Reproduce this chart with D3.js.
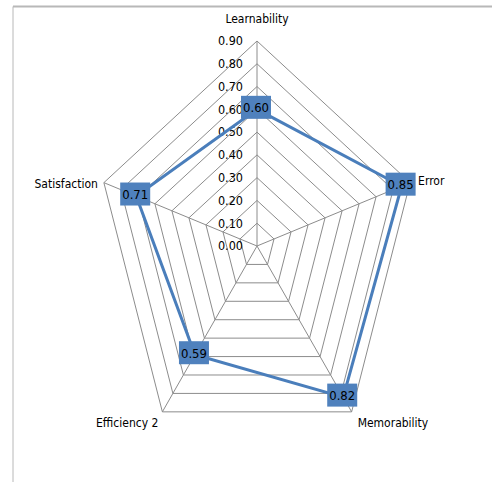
<!DOCTYPE html>
<html>
<head>
<meta charset="utf-8">
<script src="https://cdn.jsdelivr.net/npm/d3@7"></script>
<style>
  body { margin: 0; background: #fff; }
  svg text { font-family: "Liberation Sans Narrow", "DejaVu Sans Condensed", "Liberation Sans", sans-serif; font-size: 12px; fill: #000; }
</style>
</head>
<body>
<div id="chart"></div>
<script>
const categories = ["Learnability", "Error", "Memorability", "Efficiency 2", "Satisfaction"];
const values = [0.60, 0.85, 0.82, 0.59, 0.71];
const tickValues = [0, 0.1, 0.2, 0.3, 0.4, 0.5, 0.6, 0.7, 0.8, 0.9];

const width = 492, height = 482;
const cx = 257, cy = 246;

const svg = d3.select("#chart").append("svg")
  .attr("width", width)
  .attr("height", height);

// chart area border (only top and left are visible in the frame)
svg.append("line").attr("x1", 13).attr("y1", 6.5).attr("x2", width).attr("y2", 6.5)
  .attr("stroke", "#b8b8b8").attr("stroke-width", 2);
svg.append("line").attr("x1", 13).attr("y1", 6.5).attr("x2", 13).attr("y2", height)
  .attr("stroke", "#b8b8b8").attr("stroke-width", 1);

// plot is stretched: horizontal radius smaller than vertical
const rx = d3.scaleLinear().domain([0, 0.9]).range([0, 161]);
const ry = d3.scaleLinear().domain([0, 0.9]).range([0, 205]);
const angle = d3.scaleLinear().domain([0, categories.length]).range([-Math.PI / 2, 1.5 * Math.PI]);

const pt = (i, v) => [cx + rx(v) * Math.cos(angle(i)), cy + ry(v) * Math.sin(angle(i))];

const g = svg.append("g");

// rings
g.selectAll("polygon.ring")
  .data(tickValues.filter(t => t > 0))
  .join("polygon")
  .attr("class", "ring")
  .attr("points", t => categories.map((c, i) => pt(i, t).join(",")).join(" "))
  .attr("fill", "none")
  .attr("stroke", "#8c8c8c")
  .attr("stroke-width", 1);

// spokes
g.selectAll("line.spoke")
  .data(categories)
  .join("line")
  .attr("class", "spoke")
  .attr("x1", cx).attr("y1", cy)
  .attr("x2", (d, i) => pt(i, 0.9)[0])
  .attr("y2", (d, i) => pt(i, 0.9)[1])
  .attr("stroke", "#8c8c8c")
  .attr("stroke-width", 1);

// tick labels along top spoke
g.selectAll("text.tick")
  .data(tickValues)
  .join("text")
  .attr("class", "tick")
  .attr("x", 243)
  .attr("y", t => cy - ry(t))
  .attr("dy", "0.35em")
  .attr("text-anchor", "end")
  .style("font-size", "12.5px")
  .text(t => t.toFixed(2));

// category labels
const labelPos = [
  { dx: 0, dy: -22, anchor: "middle" },
  { dx: 8, dy: -2, anchor: "start" },
  { dx: 6, dy: 11, anchor: "start" },
  { dx: -4, dy: 11, anchor: "end" },
  { dx: -6, dy: 1, anchor: "end" }
];
g.selectAll("text.cat")
  .data(categories)
  .join("text")
  .attr("class", "cat")
  .attr("x", (d, i) => pt(i, 0.9)[0] + labelPos[i].dx)
  .attr("y", (d, i) => pt(i, 0.9)[1] + labelPos[i].dy)
  .attr("dy", "0.35em")
  .attr("text-anchor", (d, i) => labelPos[i].anchor)
  .text(d => d);

// series line
const line = d3.line().curve(d3.curveLinearClosed);
g.append("path")
  .attr("d", line(values.map((v, i) => pt(i, v))))
  .attr("fill", "none")
  .attr("stroke", "#4a7ebb")
  .attr("stroke-width", 3);

// data labels
const lbl = g.selectAll("g.lbl")
  .data(values)
  .join("g")
  .attr("class", "lbl")
  .attr("transform", (v, i) => {
    const p = pt(i, v);
    return `translate(${p[0] - 1},${p[1] - 1.5})`;
  });
lbl.append("rect")
  .attr("x", -15).attr("y", -12)
  .attr("width", 30).attr("height", 23)
  .attr("fill", "#4f81bd");
lbl.append("text")
  .attr("text-anchor", "middle")
  .attr("dy", "0.35em")
  .style("font-size", "13px")
  .text(v => v.toFixed(2));
</script>
</body>
</html>
